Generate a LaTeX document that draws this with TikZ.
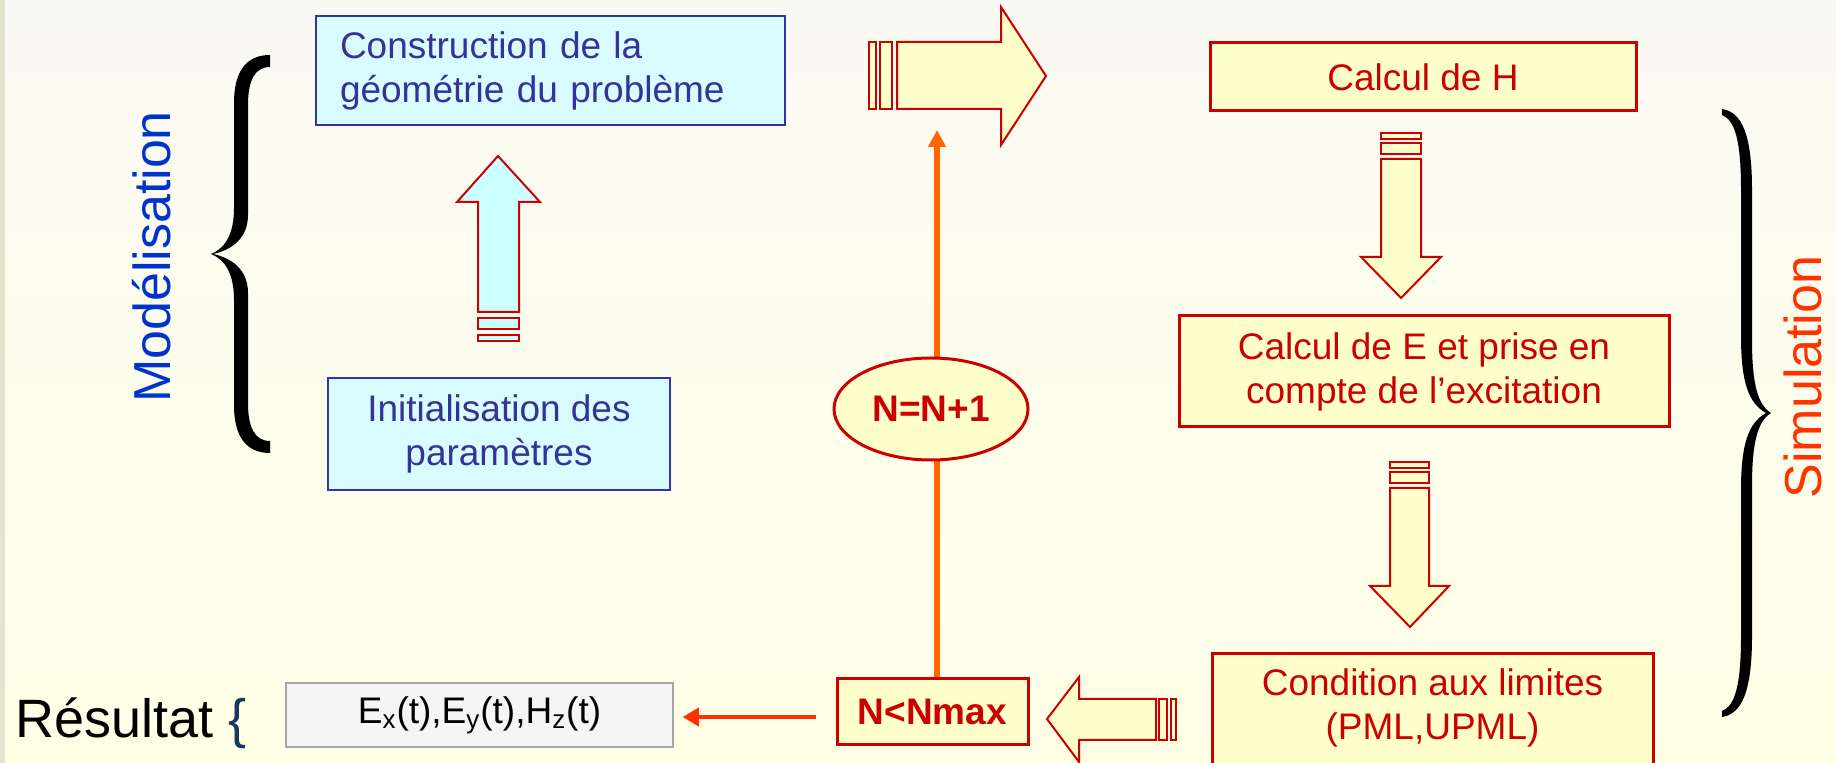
\documentclass[tikz,border=0pt]{standalone}
\usepackage{fontspec}
\setmainfont{Liberation Sans}
\usetikzlibrary{arrows.meta,shapes.geometric}
\definecolor{bgtop}{HTML}{FAFAF4}
\definecolor{bgbot}{HTML}{FFFFE6}
\definecolor{stripc}{HTML}{E2E2CE}
\definecolor{yel}{HTML}{FFFFCC}
\definecolor{rd}{HTML}{CC0000}
\definecolor{cyb}{HTML}{D8FCFF}
\definecolor{cya}{HTML}{CCFFFF}
\definecolor{bbord}{HTML}{3333AA}
\definecolor{btxt}{HTML}{333399}
\definecolor{modc}{HTML}{0033CC}
\definecolor{simc}{HTML}{FF3300}
\definecolor{orng}{HTML}{FF6600}
\definecolor{gfill}{HTML}{F5F5F5}
\definecolor{gbord}{HTML}{A6A6A6}
\definecolor{navyc}{HTML}{17375E}
\tikzset{
  mainfont/.style={font=\fontsize{18.5pt}{22pt}\selectfont},
  boldfont/.style={font=\fontsize{18.5pt}{22pt}\selectfont\bfseries},
  bluebox/.style={draw=bbord, line width=1pt, fill=cyb, text=btxt, mainfont, inner sep=0pt},
  redbox/.style={draw=rd, line width=1.5pt, fill=yel, text=rd, mainfont, inner sep=0pt, align=center},
  blockarrow/.style={draw=rd, line width=1pt, line join=miter},
  sidelabel/.style={font=\fontsize{26pt}{30pt}\selectfont, rotate=90, inner sep=0pt},
}
\begin{document}
\begin{tikzpicture}[x=0.5pt,y=-0.5pt]
\useasboundingbox (0,0) rectangle (1836,763);
\begin{scope}
\clip (0,0) rectangle (1836,763);
\shade[top color=bgtop, bottom color=bgbot] (0,0) rectangle (1836,763);
\fill[stripc] (0,0) rectangle (5,763);

% left brace
\fill[black] (270,55) -- (270,67) .. controls (255,67) and (248,80) .. (248,105)
  -- (248,215) .. controls (248,238) and (232,250) .. (213,254)
  .. controls (232,258) and (248,270) .. (248,293)
  -- (248,403) .. controls (248,428) and (255,441) .. (270,441)
  -- (270,453) .. controls (245,453) and (234,435) .. (234,405)
  -- (234,300) .. controls (234,275) and (226,260) .. (211,254)
  .. controls (226,248) and (234,233) .. (234,208)
  -- (234,103) .. controls (234,73) and (245,55) .. (270,55) -- cycle;

% right brace
\fill[black] (1722,109) .. controls (1742,112) and (1752,135) .. (1752,190)
  -- (1752,340) .. controls (1752,385) and (1758,405) .. (1771,413)
  .. controls (1758,421) and (1752,441) .. (1752,486)
  -- (1752,636) .. controls (1752,691) and (1742,714) .. (1722,717)
  -- (1722,711) .. controls (1735,706) and (1741,685) .. (1741,636)
  -- (1741,490) .. controls (1741,445) and (1748,423) .. (1766,413)
  .. controls (1748,403) and (1741,381) .. (1741,336)
  -- (1741,190) .. controls (1741,141) and (1735,120) .. (1722,115) -- cycle;

% side labels
\node[sidelabel, text=modc] (modl) at (152,257) {Modélisation};
\node[sidelabel, text=simc] (siml) at (1803,377) {Simulation};

% blue boxes
\node[bluebox, text width=210.5pt, inner xsep=12pt, minimum height=54.5pt, align=left] (geo) at (550.5,70.5) {Construction de la\\géométrie du problème};
\node[bluebox, minimum width=171pt, minimum height=56pt, align=center] (init) at (499,434) {Initialisation des\\paramètres};

% cyan up arrow
\filldraw[blockarrow, fill=cya] (498,156) -- (540,202) -- (519,202) -- (519,312) -- (478,312) -- (478,202) -- (457,202) -- cycle;
\filldraw[blockarrow, fill=cya] (478,318) rectangle (519,329);
\filldraw[blockarrow, fill=cya] (478,335) rectangle (519,341);

% yellow right arrow
\filldraw[blockarrow, fill=yel] (1046,76) -- (1001,145) -- (1001,109) -- (897,109) -- (897,42) -- (1001,42) -- (1001,7) -- cycle;
\filldraw[blockarrow, fill=yel] (869,42) rectangle (876,109);
\filldraw[blockarrow, fill=yel] (880,42) rectangle (892,109);

% red boxes
\node[redbox, minimum width=213pt, minimum height=34pt] (calH) at (1423,77) {Calcul de H};
\node[redbox, minimum width=245pt, minimum height=55.5pt] (calE) at (1424,371.5) {Calcul de E et prise en\\compte de l’excitation};
\node[redbox, minimum width=220.5pt, minimum height=64pt, anchor=north] (cond) at (1432.5,652) {};
\node[mainfont, text=rd, align=center, inner sep=0pt] (condtxt) at (1432.5,708) {Condition aux limites\\(PML,UPML)};

% down arrow 1
\filldraw[blockarrow, fill=yel] (1401,298) -- (1441,257) -- (1421,257) -- (1421,159) -- (1381,159) -- (1381,257) -- (1361,257) -- cycle;
\filldraw[blockarrow, fill=yel] (1381,143) rectangle (1421,154);
\filldraw[blockarrow, fill=yel] (1381,133) rectangle (1421,139);

% down arrow 2
\filldraw[blockarrow, fill=yel] (1410,627) -- (1449,586) -- (1429,586) -- (1429,488) -- (1390,488) -- (1390,586) -- (1370,586) -- cycle;
\filldraw[blockarrow, fill=yel] (1390,472) rectangle (1429,483);
\filldraw[blockarrow, fill=yel] (1390,462) rectangle (1429,468);

% left arrow bottom
\filldraw[blockarrow, fill=yel] (1047,719) -- (1079,677) -- (1079,699) -- (1156,699) -- (1156,740) -- (1079,740) -- (1079,762) -- cycle;
\filldraw[blockarrow, fill=yel] (1159,699) rectangle (1167,740);
\filldraw[blockarrow, fill=yel] (1171,699) rectangle (1176,740);

% loop
\node[redbox, boldfont, minimum width=95.5pt, minimum height=33pt] (nmax) at (932.5,712) {N<Nmax};
\coordinate (uptip) at (937,130);
\draw[orng, line width=3pt, -{Triangle[length=8.5pt,width=8.5pt]}] (nmax.north -| uptip) -- (uptip);
\node[ellipse, draw=rd, line width=1.5pt, fill=yel, text=rd, boldfont, minimum width=97pt, minimum height=51pt, inner sep=0pt] (incr) at (931,409) {N=N+1};

% result
\node[draw=gbord, line width=0.75pt, fill=gfill, minimum width=193.5pt, minimum height=32pt, mainfont, inner sep=0pt] (res) at (479.5,715) {E\textsubscript{x}(t),E\textsubscript{y}(t),H\textsubscript{z}(t)};
\draw[simc, line width=2pt, -{Triangle[length=8pt,width=9pt]}, shorten <=10pt, shorten >=4.5pt] ([yshift=-2.5pt]nmax.west) -- ([yshift=-1pt]res.east);
\node[anchor=base west, inner sep=0pt, font=\fontsize{27pt}{32pt}\selectfont] (resl) at (15,738) {Résultat {\color{navyc}\{}};
\end{scope}
\end{tikzpicture}
\end{document}
